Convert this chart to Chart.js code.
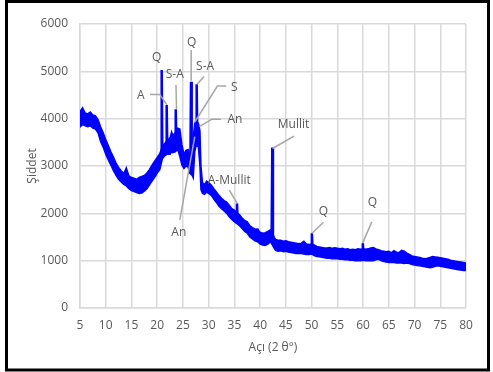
<!DOCTYPE html>
<html>
<head>
<meta charset="utf-8">
<script src="https://cdn.jsdelivr.net/npm/chart.js@4/dist/chart.umd.min.js"></script>
<style>
html,body{margin:0;padding:0;background:#fff;}
#wrap{width:493px;height:372px;}
</style>
</head>
<body>
<div id="wrap"><canvas id="c" width="493" height="372"></canvas></div>
<script>
// ---- Data ----
const angle = [5,5.5,6,6.5,7,7.5,8,8.5,9,9.5,10,10.5,11,11.5,12,12.5,13,13.5,14,14.5,15,15.5,16,16.5,17,17.5,18,18.5,19,19.5,20,20.5,21,21.5,22,22.5,22.8,23,23.5,24,24.4,24.8,25.2,25.6,26,26.3,26.8,27,27.3,27.6,28,28.3,28.5,28.8,29.2,29.6,30,30.5,31,31.5,32,32.5,33,33.5,34,34.5,35,35.5,36,36.5,37,37.5,38,38.5,39,39.5,40,40.5,41,41.5,42,42.8,43,43.5,44,44.5,45,45.5,46,46.5,47,47.5,48,48.5,49,49.5,50,50.5,51,51.5,52,52.5,53,53.5,54,54.5,55,55.5,56,56.5,57,57.5,58,58.5,59,59.5,60,60.5,61,61.5,62,62.5,63,63.5,64,64.5,65,65.5,66,66.5,67,67.5,68,68.5,69,69.5,70,70.5,71,71.5,72,72.5,73,73.5,74,74.5,75,75.5,76,76.5,77,77.5,78,78.5,79,79.5,80];
const upperIntensity = [4150,4230,4120,4100,4140,4080,4060,3980,3830,3700,3560,3430,3300,3190,3060,2970,2900,2840,2960,2790,2760,2740,2720,2760,2780,2800,2850,2930,3020,3100,3180,3260,3420,3480,3550,3600,3720,3650,3700,3800,3780,3450,3250,3330,3350,3250,3000,3600,3900,3950,3900,3750,3000,2650,2600,2680,2650,2600,2520,2450,2380,2320,2270,2240,2170,2100,2070,2010,1970,1900,1850,1820,1740,1700,1670,1660,1600,1580,1590,1620,1650,1480,1450,1430,1430,1410,1420,1400,1390,1380,1370,1360,1370,1410,1350,1340,1350,1330,1300,1290,1280,1270,1270,1280,1260,1270,1260,1250,1260,1240,1250,1230,1240,1230,1250,1240,1250,1240,1250,1270,1280,1250,1230,1210,1200,1190,1200,1170,1210,1180,1170,1220,1200,1160,1130,1100,1090,1080,1070,1050,1040,1050,1070,1090,1080,1070,1060,1050,1040,1030,1010,1000,990,980,970,960,950];
const lowerIntensity = [3820,3880,3850,3830,3850,3800,3780,3700,3520,3400,3250,3130,3020,2900,2800,2720,2660,2610,2580,2520,2480,2460,2440,2420,2430,2470,2520,2600,2680,2760,2850,2920,3150,3220,3250,3250,3300,3280,3300,3350,3200,3020,2950,3000,2980,2850,2800,2750,3300,3450,3400,3000,2500,2420,2400,2450,2420,2380,2300,2230,2150,2100,2050,2000,1930,1870,1820,1780,1740,1680,1620,1580,1500,1460,1420,1400,1350,1330,1320,1350,1400,1250,1220,1200,1210,1190,1200,1180,1170,1160,1150,1150,1150,1140,1130,1130,1140,1110,1090,1080,1070,1060,1050,1050,1040,1040,1040,1030,1030,1020,1020,1010,1010,1000,1000,1000,1010,1000,1000,1000,1000,1020,1030,1000,980,970,960,960,960,950,950,950,940,950,940,920,910,900,890,880,870,860,850,860,880,890,880,870,860,850,840,830,820,810,800,790,790,780,780];
const peakAngle = [20.87,21.84,23.6,26.57,27.67,35.5,39.5,42.36,50.05,59.95];
const peakTop   = [5030,4290,4200,4780,4725,2210,1680,3390,1580,1370];
const peakBase  = [3250,3350,3400,2900,3500,1850,1450,1450,1250,1150];
const xTickLabels = ['5','10','15','20','25','30','35','40','45','50','55','60','65','70','75','80'];
const yTickLabels = ['0','1000','2000','3000','4000','5000','6000'];

// Phase labels and their leader lines (data coordinates: angle, intensity)
const notes = [
  {text:'Q',        at:[19.9,5300], line:[]},
  {text:'S-A',      at:[23.4,4930], line:[[23.65,4710],[23.75,4200]]},
  {text:'A',        at:[16.8,4490], line:[[18.6,4510],[20.5,4510],[21.9,4290]]},
  {text:'Q',        at:[26.7,5610], line:[[26.6,5450],[26.6,4800]]},
  {text:'S-A',      at:[29.3,5110], line:[[29.1,4890],[27.8,4730]]},
  {text:'S',        at:[35.0,4660], line:[[33.4,4690],[31.7,4690],[27.3,3930]]},
  {text:'An',       at:[35.1,3990], line:[[32.4,3990],[30.6,3990],[28.2,3830]]},
  {text:'An',       at:[24.2,1600], line:[[24.4,1860],[27.3,3620]]},
  {text:'A-Mullit', at:[34.0,2700], line:[[34.0,2490],[35.55,2210]]},
  {text:'Mullit',   at:[46.5,3880], line:[[46.6,3630],[42.4,3370]]},
  {text:'Q',        at:[52.3,2035], line:[[52.3,1810],[50.1,1580]]},
  {text:'Q',        at:[61.8,2235], line:[[61.7,1820],[59.9,1370]]}
];

// ---- Build datasets ----
const BLUE = '#0000ff';
const SPIKE_HALF = 0.13;
const upperData = angle.map((a,i)=>({x:a,y:upperIntensity[i]}));
const lowerData = angle.map((a,i)=>({x:a,y:lowerIntensity[i]}));
const peakData = [];
peakAngle.forEach((a,i)=>{
  peakData.push({x:a-SPIKE_HALF,y:peakBase[i]});
  peakData.push({x:a,y:peakTop[i]});
  peakData.push({x:a+SPIKE_HALF,y:peakBase[i]});
  peakData.push({x:a+SPIKE_HALF,y:null});
});

Chart.defaults.font.family = "'Open Sans', sans-serif";
Chart.defaults.font.size = 12;
Chart.defaults.color = '#595959';

const notesPlugin = {
  id:'notes',
  afterDatasetsDraw(chart){
    const {ctx, scales:{x,y}} = chart;
    ctx.save();
    ctx.strokeStyle = '#a6a6a6';
    ctx.lineWidth = 1.5;
    notes.forEach(n=>{
      if(n.line.length){
        ctx.beginPath();
        n.line.forEach((p,j)=>{
          const px = x.getPixelForValue(p[0]), py = y.getPixelForValue(p[1]);
          if(j===0) ctx.moveTo(px,py); else ctx.lineTo(px,py);
        });
        ctx.stroke();
      }
    });
    ctx.fillStyle = '#595959';
    ctx.font = "12px 'Open Sans', sans-serif";
    ctx.textAlign = 'center';
    ctx.textBaseline = 'middle';
    notes.forEach(n=>{
      ctx.fillText(n.text, x.getPixelForValue(n.at[0]), y.getPixelForValue(n.at[1]));
    });
    ctx.restore();
  },
  afterDraw(chart){
    const ctx = chart.ctx;
    ctx.save();
    ctx.strokeStyle = '#000';
    ctx.lineWidth = 3;
    ctx.strokeRect(6.5, 1.5, 482, 368.5);
    ctx.restore();
  }
};

new Chart(document.getElementById('c'), {
  type:'line',
  data:{
    datasets:[
      {data:upperData, borderColor:BLUE, backgroundColor:BLUE, borderWidth:1.5, pointRadius:0, fill:false, tension:0},
      {data:lowerData, borderColor:BLUE, backgroundColor:BLUE, borderWidth:1.5, pointRadius:0, fill:'-1', tension:0},
      {data:peakData, borderColor:BLUE, borderWidth:2.5, pointRadius:0, fill:false, tension:0, spanGaps:false}
    ]
  },
  plugins:[notesPlugin],
  options:{
    responsive:false,
    animation:false,
    events:[],
    layout:{padding:{left:0,right:27,top:24,bottom:0}},
    plugins:{legend:{display:false}, tooltip:{enabled:false}},
    scales:{
      x:{
        type:'linear', min:5, max:80,
        afterFit(s){ s.height = 64; },
        afterBuildTicks(s){ s.ticks = xTickLabels.map(v=>({value:Number(v)})); },
        ticks:{padding:10, maxRotation:0, autoSkip:false, color:'#595959', font:{size:12}, callback:(v)=>String(v)},
        grid:{color:'#d9d9d9', lineWidth:1.5, drawTicks:false},
        border:{color:'#d9d9d9', width:1.5},
        title:{display:true, text:'Açı (2 θ°)', color:'#595959', font:{size:12}, padding:{top:0,bottom:17}}
      },
      y:{
        min:0, max:6000,
        afterFit(s){ s.width = 80; },
        afterBuildTicks(s){ s.ticks = yTickLabels.map(v=>({value:Number(v)})); },
        ticks:{padding:12, color:'#595959', font:{size:12}, callback:(v)=>String(v)},
        grid:{color:'#d9d9d9', lineWidth:1.5, drawTicks:false},
        border:{color:'#d9d9d9', width:1.5},
        title:{display:true, text:'Şiddet', color:'#595959', font:{size:12}, padding:{top:25,bottom:0}}
      }
    }
  }
});
</script>
</body>
</html>
